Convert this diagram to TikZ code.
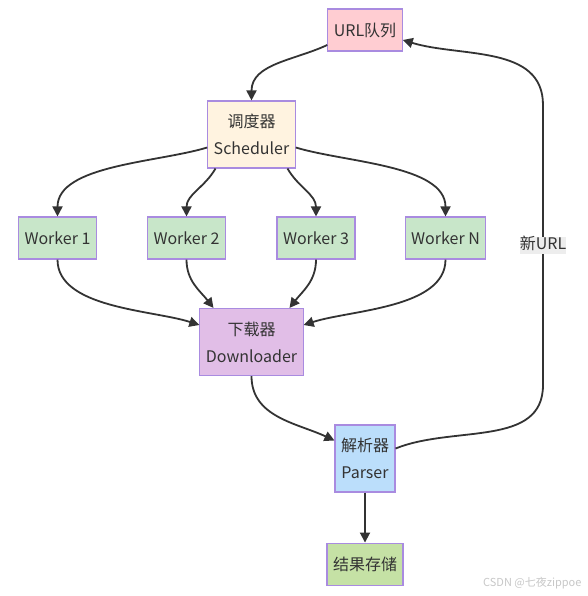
\documentclass[tikz,border=0pt]{standalone}
\usepackage{fontspec}
\setmainfont{Noto Sans CJK SC}
\usetikzlibrary{positioning,arrows.meta}

\definecolor{boxline}{HTML}{A98BE0}
\definecolor{edgegray}{HTML}{333333}
\definecolor{textgray}{HTML}{333333}
\definecolor{queuefill}{HTML}{FFCDD2}
\definecolor{schedfill}{HTML}{FFF3E0}
\definecolor{workerfill}{HTML}{C8E6C9}
\definecolor{downfill}{HTML}{E1BEE7}
\definecolor{parsefill}{HTML}{BBDEFB}
\definecolor{storefill}{HTML}{C5E1A5}

\begin{document}
\begin{tikzpicture}[
            x=1pt,y=1pt,
            box/.style={
                    draw=boxline,
                    line width=1.1pt,
                    inner xsep=6pt,
                    inner ysep=2pt,
                    minimum height=42pt,
                    align=center,
                    text=textgray,
                    font=\fontsize{16}{27}\selectfont
                },
            tall/.style={
                    box,
                    minimum height=67pt
                },
            flow/.style={
                    draw=edgegray,
                    line width=1.8pt,
                    -{Triangle[length=10pt,width=10pt]}
                }
        ]
        \useasboundingbox (0,0) rectangle (587,-596);

        \node[box,fill=queuefill] at (365,-30)
        (queue) {URL队列};
        \node[tall,fill=schedfill] at (251.5,-134.5)
        (sched) {调度器\\Scheduler};
        \node[box,fill=workerfill] at (57.5,-238)
        (w1) {Worker 1};
        \node[box,fill=workerfill] at (186.5,-238)
        (w2) {Worker 2};
        \node[box,fill=workerfill] at (316,-238)
        (w3) {Worker 3};
        \node[box,fill=workerfill] at (445.5,-238)
        (wn) {Worker N};
        \node[tall,fill=downfill] at (251.5,-342)
        (down) {下载器\\Downloader};
        \node[tall,fill=parsefill] at (365,-458.5)
        (parser) {解析器\\Parser};
        \node[box,fill=storefill,below=50pt of parser]
        (store) {结果存储};

        \coordinate (backlow) at (543,-385);
        \coordinate (backhigh) at (543,-105);

        \draw[flow] ([yshift=-15pt]queue.west) to[out=205,in=90] (sched.north);

        \draw[flow] ([yshift=-13pt]sched.west) to[out=197,in=90,looseness=0.8] (w1.north);
        \draw[flow] ([xshift=-36pt]sched.south) to[out=240,in=90] (w2.north);
        \draw[flow] ([xshift=36pt]sched.south) to[out=300,in=90] (w3.north);
        \draw[flow] ([yshift=-13pt]sched.east) to[out=-17,in=90,looseness=0.8] (wn.north);

        \draw[flow] (w1.south) to[out=-90,in=162,looseness=0.8] ([yshift=17pt]down.west);
        \draw[flow] (w2.south) to[out=-90,in=128] ([xshift=-38pt]down.north);
        \draw[flow] (w3.south) to[out=-90,in=52] ([xshift=38pt]down.north);
        \draw[flow] (wn.south) to[out=-90,in=18,looseness=0.8] ([yshift=17pt]down.east);

        \draw[flow] (down.south) to[out=-90,in=155] ([yshift=18pt]parser.west);
        \draw[flow] (parser) -- (store);

        \draw[flow] ([yshift=10pt]parser.east) to[out=22,in=-90] (backlow)
        -- node[fill=black!7,inner xsep=0pt,inner ysep=0pt,text height=13pt,text depth=4pt,
                text=textgray,font=\fontsize{16}{20}\selectfont] (newurl) {新URL}
        (backhigh) to[out=90,in=-17] ([yshift=-10pt]queue.east);

        \node[anchor=east,text=black!22,font=\fontsize{11}{13}\selectfont] at (585,-583)
        (mark) {CSDN @七夜zippoe};
    \end{tikzpicture}
\end{document}
